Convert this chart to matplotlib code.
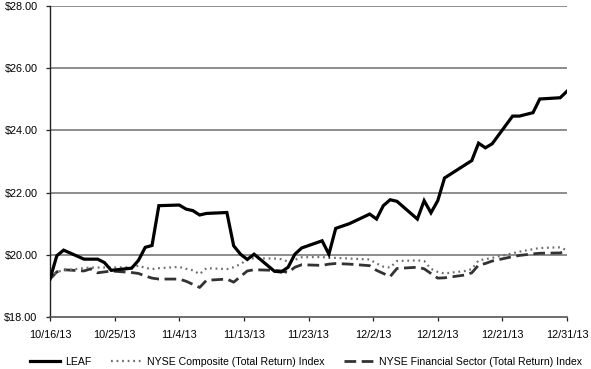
import numpy as np
import pandas as pd
import matplotlib
matplotlib.use("Agg")
import matplotlib.pyplot as plt

plt.rcParams['font.family'] = ['Liberation Sans', 'DejaVu Sans']

dates = [
    "2013-10-16", "2013-10-17", "2013-10-18", "2013-10-21", "2013-10-22", "2013-10-23",
    "2013-10-24", "2013-10-25", "2013-10-28", "2013-10-29", "2013-10-30", "2013-10-31",
    "2013-11-01", "2013-11-04", "2013-11-05", "2013-11-06", "2013-11-07", "2013-11-08",
    "2013-11-11", "2013-11-12", "2013-11-13", "2013-11-14", "2013-11-15", "2013-11-18",
    "2013-11-19", "2013-11-20", "2013-11-21", "2013-11-22", "2013-11-25", "2013-11-26",
    "2013-11-27", "2013-11-29", "2013-12-02", "2013-12-03", "2013-12-04", "2013-12-05",
    "2013-12-06", "2013-12-09", "2013-12-10", "2013-12-11", "2013-12-12", "2013-12-13",
    "2013-12-16", "2013-12-17", "2013-12-18", "2013-12-19", "2013-12-20", "2013-12-23",
    "2013-12-24", "2013-12-26", "2013-12-27", "2013-12-30", "2013-12-31",
]

leaf = [
    19.22, 19.97, 20.15, 19.86, 19.86, 19.86, 19.75, 19.50, 19.57, 19.82, 20.24, 20.30,
    21.58, 21.60, 21.47, 21.42, 21.28, 21.33, 21.36, 20.29, 20.02, 19.85, 20.02, 19.47,
    19.45, 19.60, 20.02, 20.22, 20.45, 20.02, 20.85, 21.00, 21.31, 21.15, 21.58, 21.77,
    21.72, 21.15, 21.74, 21.35, 21.74, 22.47, 22.89, 23.03, 23.59, 23.44, 23.57, 24.46,
    24.46, 24.57, 25.01, 25.05, 25.26,
]

nyse_composite = [
    19.27, 19.45, 19.50, 19.57, 19.59, 19.59, 19.59, 19.59, 19.60, 19.65, 19.58, 19.54,
    19.57, 19.61, 19.55, 19.50, 19.38, 19.57, 19.54, 19.60, 19.70, 19.85, 19.89, 19.88,
    19.86, 19.78, 19.84, 19.92, 19.93, 19.90, 19.90, 19.88, 19.85, 19.72, 19.62, 19.59,
    19.80, 19.82, 19.80, 19.55, 19.45, 19.40, 19.48, 19.54, 19.82, 19.86, 19.90, 20.05,
    20.10, 20.18, 20.22, 20.24, 20.14,
]

nyse_financial = [
    19.22, 19.45, 19.52, 19.48, 19.55, 19.42, 19.45, 19.48, 19.43, 19.40, 19.32, 19.25,
    19.22, 19.22, 19.15, 19.05, 18.95, 19.18, 19.22, 19.12, 19.30, 19.48, 19.52, 19.50,
    19.48, 19.43, 19.60, 19.68, 19.66, 19.70, 19.72, 19.70, 19.65, 19.50, 19.40, 19.30,
    19.56, 19.60, 19.55, 19.40, 19.25, 19.26, 19.35, 19.42, 19.67, 19.72, 19.80, 19.94,
    19.98, 20.03, 20.05, 20.06, 20.13,
]

series_names = ["LEAF", "NYSE Composite (Total Return) Index",
                "NYSE Financial Sector (Total Return) Index"]
x_tick_labels = ["10/16/13", "10/25/13", "11/4/13", "11/13/13", "11/23/13",
                 "12/2/13", "12/12/13", "12/21/13", "12/31/13"]
y_ticks = [18, 20, 22, 24, 26, 28]

d = pd.to_datetime(dates)
x = np.asarray((d - d[0]).days, dtype=float)
span = x[-1]

fig = plt.figure(figsize=(5.91, 3.69), dpi=100)
ax = fig.add_axes([50 / 591, 1 - 317 / 369, 517 / 591, 311 / 369])

for yv in y_ticks[1:]:
    ax.axhline(yv, color="#7a7a7a", lw=1.2, zorder=1)

ax.plot(x, nyse_financial, color="#333333", lw=2.0, dashes=(4.2, 2.0),
        solid_capstyle="butt", dash_capstyle="butt", label=series_names[2], zorder=2)
ax.plot(x, nyse_composite, color="#6e6e6e", lw=1.6, dashes=(0.8, 1.7),
        label=series_names[1], zorder=3)
ax.plot(x, leaf, color="black", lw=2.3, solid_joinstyle="miter",
        label=series_names[0], zorder=4)

ax.set_xlim(0, span)
ax.set_ylim(18, 28)
ax.set_xticks(np.linspace(0, span, len(x_tick_labels)))
ax.set_xticklabels(x_tick_labels)
ax.set_yticks(y_ticks)
ax.set_yticklabels([f"${v:.2f}" for v in y_ticks])

for s in ["top", "right"]:
    ax.spines[s].set_visible(False)
ax.spines["left"].set_color("#222222")
ax.spines["left"].set_linewidth(1.0)
ax.spines["bottom"].set_color("#555555")
ax.spines["bottom"].set_linewidth(1.2)
ax.tick_params(axis="both", labelsize=7.8, colors="#222222", length=3, width=0.9,
               labelcolor="black")
ax.tick_params(axis="y", pad=6)
ax.tick_params(axis="x", pad=6)

h, l = ax.get_legend_handles_labels()
order = [2, 1, 0]
fig.legend([h[i] for i in order], [l[i] for i in order], loc="center",
           bbox_to_anchor=(306 / 591, 1 - 362 / 369), ncol=3, frameon=False,
           fontsize=7.6, handlelength=2.9, handletextpad=0.45, columnspacing=1.9,
           borderpad=0)

fig.savefig("out.png", dpi=100)
